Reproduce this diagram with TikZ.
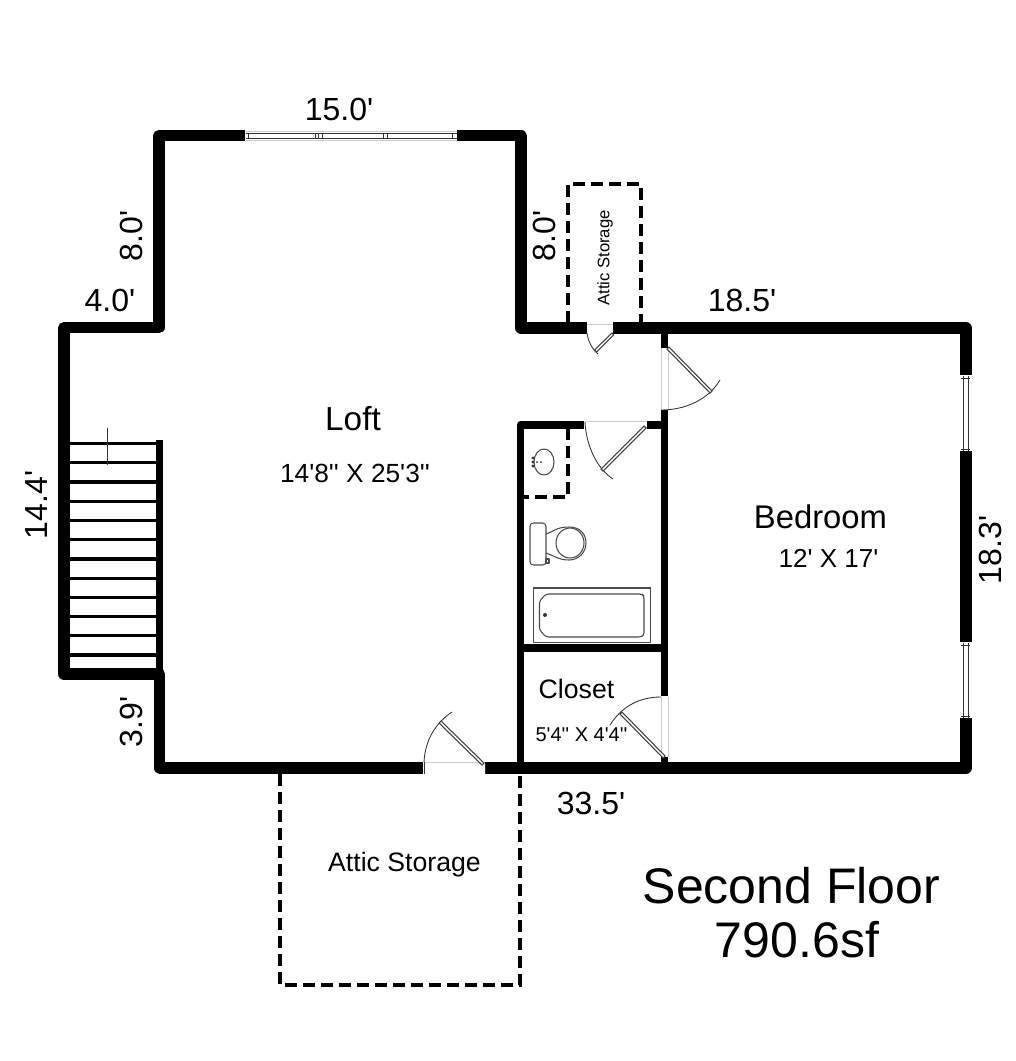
\documentclass[tikz,border=0pt]{standalone}
\usepackage{fontspec}
\newfontfamily\plainsans{Liberation Sans}
\tikzset{
  outer wall/.style={line width=8.5pt,line join=round,line cap=butt,black},
  inner wall/.style={line width=5.7pt,line join=round,line cap=butt,black},
  dashed wall/.style={line width=3pt,black,dash pattern=on 9pt off 4.5pt},
  tread/.style={line width=2.5pt,black},
  thin/.style={line width=0.65pt,black!80},
  faint/.style={line width=0.5pt,black!20},
  leaf/.style={line width=0.8pt,black!75,fill=white},
  fixture/.style={line width=0.8pt,black!70,line join=round},
  lbl/.style={inner sep=0pt,font=\plainsans\fontsize{#1}{#1}\selectfont,align=center},
  lbl/.default=24pt
}
\begin{document}
\begin{tikzpicture}[x=0.75pt,y=-0.75pt]
\path[use as bounding box,fill=white] (0,0) rectangle (1016,1061);

% dashed attic outlines
\draw[dashed wall] (568,323) -- (568,184) -- (641,184) -- (641,323);
\draw[dashed wall] (280,774) -- (280,985) -- (520,985) -- (520,774);
\draw[dashed wall] (568,428) -- (568,497) -- (524,497);

% outer walls
\draw[outer wall] (245,135.5) -- (159,135.5) -- (159,327.5) -- (64,327.5) -- (64,674) -- (159.5,674) -- (159.5,768) -- (423,768);
\draw[outer wall] (457,135.5) -- (521,135.5) -- (521,328) -- (587,328);
\draw[outer wall] (613,328) -- (966,328) -- (966,375);
\draw[outer wall] (966,451) -- (966,642);
\draw[outer wall] (966,718) -- (966,768) -- (485,768);

% inner walls
\draw[inner wall] (159.5,440) -- (159.5,670);
\draw[inner wall] (584,425) -- (520.5,425) -- (520.5,768);
\draw[inner wall] (664.5,425) -- (647,425);
\draw[inner wall] (664.5,333) -- (664.5,348);
\draw[inner wall] (664.5,410) -- (664.5,696);
\draw[inner wall] (664.5,757) -- (664.5,768);
\draw[inner wall] (520.5,648) -- (664.5,648);

% stairs
\foreach \ty in {443.3,462.7,482,501.3,520.3,539.3,559,578.3,597.3,616.7,635.7,655}
  \draw[tread] (69,\ty) -- (157,\ty);
\draw[thin] (107,428) -- (107,465);

% top window
\draw[thin] (246,133.5) -- (457,133.5) (246,138) -- (457,138);
\draw[faint] (246,131) -- (457,131) (246,140) -- (457,140);
\foreach \mx in {248,315,318,322,383,387,452}
  \draw[thin] (\mx,133.5) -- (\mx,138);

% right windows
\foreach \ya/\yb in {376/451,643/718}{
  \draw[thin] (963.5,\ya) -- (963.5,\yb) (968,\ya) -- (968,\yb);
  \draw[thin] (961,\ya+2) -- (970,\ya+2) (961,\yb-2) -- (970,\yb-2);
}

% attic door
\draw[faint] (587,324) -- (613,324);
\draw[thin] (587,333) .. controls (588,341) and (592,349) .. (598,354);
\draw[leaf] (612,333) -- (594.5,350) -- (596.5,352) -- (613.5,335) -- cycle;

% bedroom door
\draw[faint] (661,348) -- (661,410) (668,348) -- (668,410);
\draw[thin] (661,410) .. controls (685,410) and (708,400) .. (720,380);
\draw[leaf] (667,349) -- (710,393) -- (712,391) -- (669,347) -- cycle;

% bathroom door
\draw[faint] (585,421) -- (647,421);
\draw[thin] (585,422) .. controls (586,444) and (596,468) .. (613,479);
\draw[leaf] (644,426) -- (601,469) -- (603,471) -- (646,428) -- cycle;

% closet door
\draw[faint] (661,697) -- (661,757) (668,697) -- (668,757);
\draw[thin] (661,697) .. controls (640,697) and (622,706) .. (610,725);
\draw[leaf] (663,758) -- (620,714) -- (622,712) -- (665,756) -- cycle;

% loft door
\draw[faint] (424,762) -- (485,762);
\draw[thin] (424,762) .. controls (425,742) and (434,724) .. (452,712);
\draw[leaf] (482,765) -- (439,723) -- (441,721) -- (484,763) -- cycle;
\draw[thin] (424,762) -- (424,774) (485,764) -- (485,774);

% sink
\draw[fixture] (544,462) ellipse (10 and 13);
\fill[black!80] (533,458) circle (1.6) (533,462) circle (1.6) (533,466) circle (1.6) (537,462) circle (1) (541,462) circle (1);

% toilet
\draw[fixture,rounded corners=2.5pt] (530,523) rectangle (546,565);
\draw[fixture] (546,534) .. controls (553,532) and (556,527) .. (569,527)
  .. controls (580,527) and (586,534) .. (586,543)
  .. controls (586,553) and (578,560) .. (569,560)
  .. controls (558,560) and (553,555) .. (546,553);
\draw[fixture] (570,543) ellipse (14 and 15);
\draw[fixture] (546,559) rectangle (549,563);

% tub
\draw[fixture] (533.5,588) rectangle (650.5,642.5);
\draw[fixture,rounded corners=2pt] (546,594) -- (642,594) -- (644,596) -- (644,635) -- (641,637) -- (546,637) -- (539.5,630) -- (539.5,601) -- cycle;
\fill[black!80] (545,615) circle (2);

% labels
\node[lbl] (dimTop) at (339,109) {15.0'};
\node[lbl,rotate=90] (dimLeftUp) at (131,236) {8.0'};
\node[lbl,rotate=90] (dimMid) at (544,236) {8.0'};
\node[lbl] (dimStep) at (110,300) {4.0'};
\node[lbl] (dimBedTop) at (742,300) {18.5'};
\node[lbl,rotate=90] (dimStairs) at (36,505) {14.4'};
\node[lbl,rotate=90] (dimRight) at (990,550) {18.3'};
\node[lbl,rotate=90] (dimLow) at (131,722) {3.9'};
\node[lbl] (dimBottom) at (591,803) {33.5'};
\node[lbl=25pt] (loft) at (353,419) {Loft};
\node[lbl=19.7pt] (loftSize) at (355,473) {14'8'' X 25'3''};
\node[lbl=24.6pt] (bedroom) at (820.5,517) {Bedroom};
\node[lbl=19.5pt] (bedSize) at (828.5,558) {12' X 17'};
\node[lbl=20pt] (closet) at (576.5,689) {Closet};
\node[lbl=15pt] (closetSize) at (581.5,735) {5'4'' X 4'4''};
\node[lbl=20pt] (atticLow) at (404.5,865) {Attic Storage};
\node[lbl=12.5pt,rotate=90] (atticHigh) at (605,258) {Attic Storage};
\node[lbl=37.5pt] (floorName) at (791.5,886) {Second Floor};
\node[lbl=37.5pt] (floorArea) at (797,940) {790.6sf};
\end{tikzpicture}
\end{document}
